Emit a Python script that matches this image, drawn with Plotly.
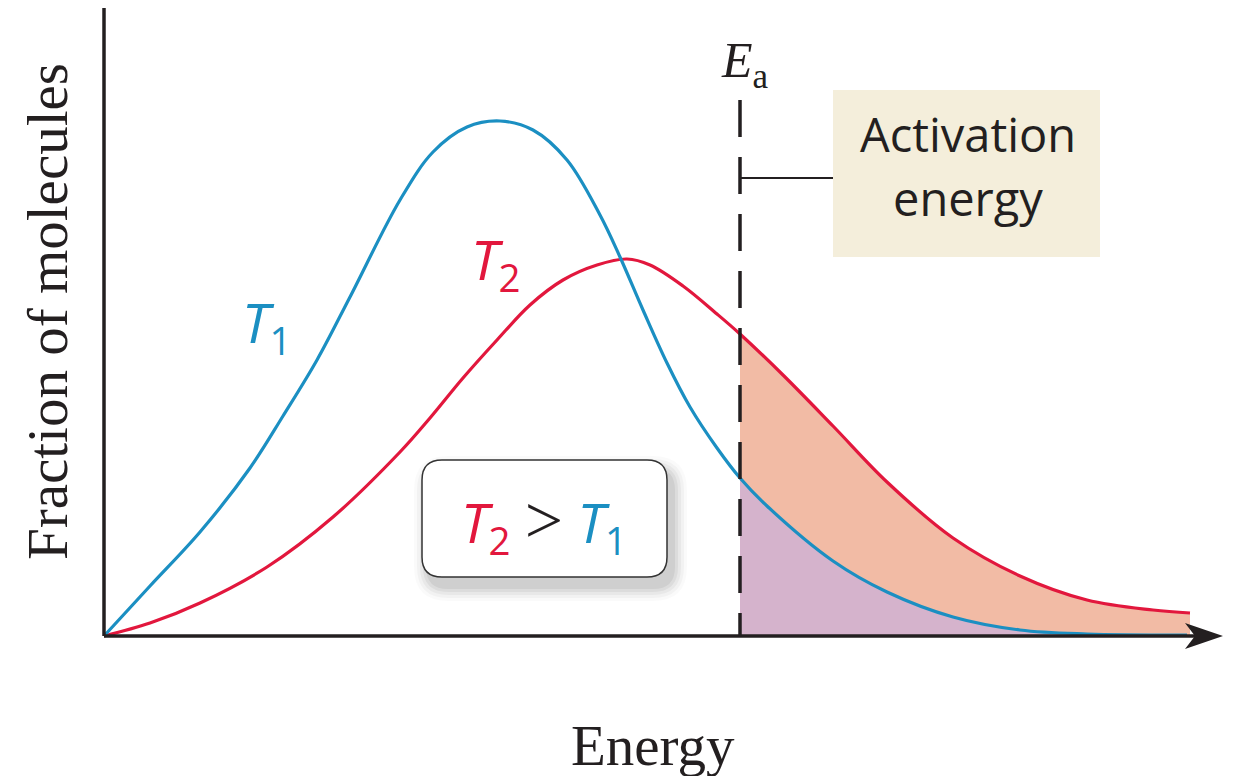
import plotly.graph_objects as go

# Maxwell-Boltzmann curves (energy, fraction; arbitrary units)
energy_t1 = [0, 0.46, 0.96, 1.46, 1.79, 2.13, 2.46, 2.96, 3.29, 3.63, 3.96, 4.29, 4.63,
             4.96, 5.16, 5.39, 5.63, 5.86, 6.13, 6.36, 6.63, 7.29, 7.83, 8.49, 9.16,
             9.83, 10.83]
frac_t1 = [0, 0.50, 1.04, 1.68, 2.20, 2.76, 3.39, 4.36, 4.84, 5.09, 5.15, 5.06, 4.76,
           4.21, 3.79, 3.26, 2.73, 2.29, 1.88, 1.58, 1.30, 0.75, 0.44, 0.19, 0.06,
           0.02, 0.01]

energy_t2 = [0, 0.46, 0.96, 1.63, 2.29, 2.96, 3.26, 3.59, 3.93, 4.26, 4.59, 4.93, 5.23,
             5.46, 5.79, 6.13, 6.36, 6.79, 7.29, 7.83, 8.49, 9.16, 9.83, 10.49, 10.86]
frac_t2 = [0, 0.13, 0.33, 0.69, 1.19, 1.84, 2.18, 2.58, 2.96, 3.31, 3.56, 3.71, 3.77,
           3.71, 3.50, 3.22, 3.02, 2.61, 2.10, 1.54, 0.98, 0.60, 0.36, 0.26, 0.23]

ea = 6.36

BLUE = '#1b8fc2'
RED = '#e2173d'
INK = '#231f20'


def tail(xs, ys, cut):
    pts = [(x, y) for x, y in zip(xs, ys) if x >= cut]
    return [p[0] for p in pts], [p[1] for p in pts]


def rounded_rect(x0, y0, x1, y1, r):
    return (f'M {x0 + r},{y0} L {x1 - r},{y0} Q {x1},{y0} {x1},{y0 + r} '
            f'L {x1},{y1 - r} Q {x1},{y1} {x1 - r},{y1} L {x0 + r},{y1} '
            f'Q {x0},{y1} {x0},{y1 - r} L {x0},{y0 + r} Q {x0},{y0} {x0 + r},{y0} Z')


fig = go.Figure()

# shaded tails beyond the activation energy
tx2, ty2 = tail(energy_t2, frac_t2, ea)
tx1, ty1 = tail(energy_t1, frac_t1, ea)
fig.add_trace(go.Scatter(x=tx2, y=ty2, mode='lines', line=dict(width=0, shape='spline'),
                         fill='tozeroy', fillcolor='#f2bba5', hoverinfo='skip'))
fig.add_trace(go.Scatter(x=tx1, y=ty1, mode='lines', line=dict(width=0, shape='spline'),
                         fill='tozeroy', fillcolor='#d5b3cc', hoverinfo='skip'))

fig.add_trace(go.Scatter(x=energy_t2, y=frac_t2, mode='lines',
                         line=dict(color=RED, width=3.2, shape='spline')))
fig.add_trace(go.Scatter(x=energy_t1, y=frac_t1, mode='lines',
                         line=dict(color=BLUE, width=3.2, shape='spline')))

shapes = []
# axes
shapes.append(dict(type='line', x0=0, y0=0, x1=0, y1=6.31, line=dict(color=INK, width=3.5)))
shapes.append(dict(type='line', x0=0, y0=0, x1=10.95, y1=0, line=dict(color=INK, width=3.5)))
shapes.append(dict(type='path', path='M 11.19,0 L 10.81,0.13 L 10.91,0 L 10.81,-0.13 Z',
                   fillcolor=INK, line=dict(width=0)))
# Ea line and leader
shapes.append(dict(type='line', x0=ea, y0=5.36, x1=ea, y1=0,
                   line=dict(color=INK, width=3.5, dash='37px,20px')))
shapes.append(dict(type='line', x0=ea, y0=4.58, x1=7.29, y1=4.58, line=dict(color=INK, width=2)))
shapes.append(dict(type='rect', x0=7.29, y0=3.79, x1=9.96, y1=5.46,
                   fillcolor='#f4eedb', line=dict(width=0)))
# T2 > T1 box with soft shadow
for i, a in enumerate([0.02, 0.03, 0.04, 0.05, 0.06]):
    g = 0.14 - i * 0.03
    shapes.append(dict(type='path', path=rounded_rect(3.18 + 0.06 - g, 0.59 - 0.10 - g,
                                                      5.63 + 0.06 + g, 1.76 - 0.10 + g, 0.2 + g),
                       fillcolor=f'rgba(0,0,0,{a})', line=dict(width=0)))
shapes.append(dict(type='path', path=rounded_rect(3.18, 0.59, 5.63, 1.76, 0.2),
                   fillcolor='white', line=dict(color='#333333', width=1.5)))

sans = 'Open Sans'
serif = 'Liberation Serif'
annotations = [
    dict(x=8.64, y=5.02, text='Activation', font=dict(family=sans, size=47, color=INK)),
    dict(x=8.64, y=4.38, text='energy', font=dict(family=sans, size=47, color=INK)),
    dict(x=6.41, y=5.72, text='<i>E</i><sub>a</sub>', font=dict(family=serif, size=50, color=INK)),
    dict(x=1.62, y=3.11, text='<i>T</i><sub>1</sub>', font=dict(family=sans, size=55, color=BLUE)),
    dict(x=3.91, y=3.74, text='<i>T</i><sub>2</sub>', font=dict(family=sans, size=55, color=RED)),
    dict(x=4.40, y=1.12,
         text=f'<span style="color:{RED}"><i>T</i><sub>2</sub></span> '
              f'<span style="font-family:Liberation Serif;font-size:68px">&gt;</span> '
              f'<span style="color:{BLUE}"><i>T</i><sub>1</sub></span>',
         font=dict(family=sans, size=55, color=INK)),
    dict(x=5.49, y=-1.09, text='Energy', font=dict(family=serif, size=57, color=INK)),
    dict(x=-0.57, y=3.24, text='Fraction of molecules', textangle=-90,
         font=dict(family=serif, size=57, color=INK)),
]
for a in annotations:
    a.update(xref='x', yref='y', showarrow=False, xanchor='center', yanchor='middle')

fig.update_layout(
    width=1238, height=776,
    margin=dict(l=0, r=0, t=0, b=0),
    paper_bgcolor='white', plot_bgcolor='white',
    showlegend=False,
    # ranges offset by the page's 8px body margin so marks land at the reference pixels
    xaxis=dict(range=[-0.96, 11.42], visible=False, fixedrange=True),
    yaxis=dict(range=[-1.48, 6.28], visible=False, fixedrange=True),
    shapes=shapes, annotations=annotations,
)

fig.write_html('out.html')
